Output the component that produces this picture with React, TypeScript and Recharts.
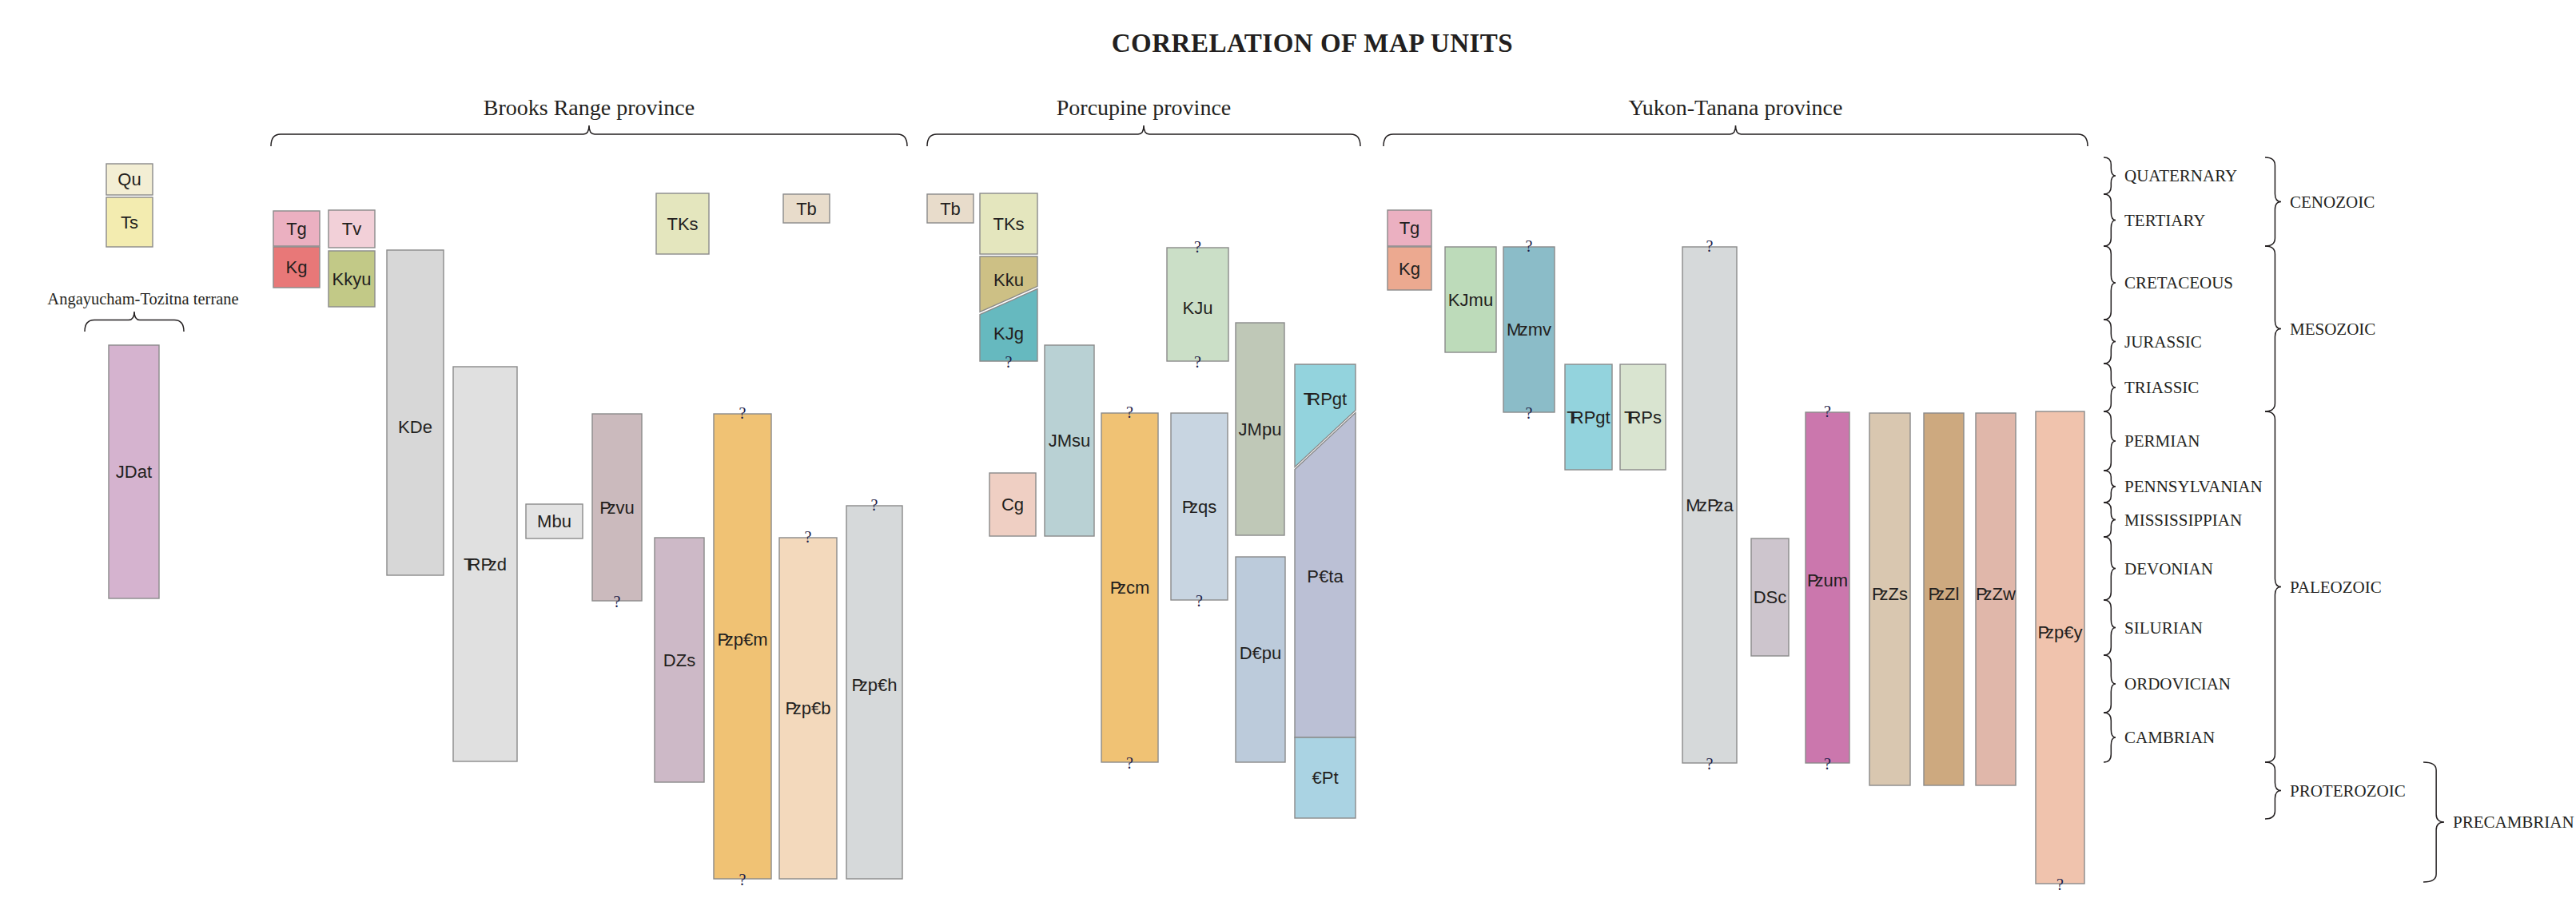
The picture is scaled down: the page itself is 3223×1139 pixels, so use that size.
import React from 'react';
import { ComposedChart, XAxis, YAxis, ReferenceArea, Scatter } from 'recharts';

const CHART_W = 3223;
const CHART_H = 1139;

// vertical axis = stratigraphic position, 0 = top of the Quaternary, growing downward
const periodNames = ['QUATERNARY', 'TERTIARY', 'CRETACEOUS', 'JURASSIC', 'TRIASSIC', 'PERMIAN', 'PENNSYLVANIAN', 'MISSISSIPPIAN', 'DEVONIAN', 'SILURIAN', 'ORDOVICIAN', 'CAMBRIAN'];
const periodBounds = [0, 46, 111, 203, 258, 318, 392, 432, 475, 554, 623, 695, 757];
const eraNames = ['CENOZOIC', 'MESOZOIC', 'PALEOZOIC', 'PROTEROZOIC'];
const eraBounds = [0, 111, 318, 757, 828];
const eonNames = ['PRECAMBRIAN'];
const eonBounds = [757, 907];

const provinceNames = ['Brooks Range province', 'Porcupine province', 'Yukon-Tanana province'];
const provinceStart = [339, 1160, 1731];
const provinceEnd = [1135, 1702, 2612];
const terraneName = 'Angayucham-Tozitna terrane';
const terraneSpan = [106, 230];

type Unit = {
  id: string;
  x1: number;
  x2: number;
  top: number;
  bottom: number;
  q?: 'top' | 'bottom' | 'both';
  cut?: [number, number]; // diagonal contact, left / right
  part?: 'upper' | 'lower';
};

// '|' = next glyph tucked into the previous one (Pz, Mz, TR symbols); '#x' = column suffix
const terraneUnits: Unit[] = [
  { id: 'Qu', x1: 133, x2: 191, top: 8, bottom: 47 },
  { id: 'Ts', x1: 133, x2: 191, top: 50, bottom: 112 },
  { id: 'JDat', x1: 136, x2: 199, top: 235, bottom: 552 },
];

const brooksUnits: Unit[] = [
  { id: 'Tg#b', x1: 342, x2: 400, top: 67, bottom: 111 },
  { id: 'Kg#b', x1: 342, x2: 400, top: 112, bottom: 163 },
  { id: 'Tv', x1: 411, x2: 469, top: 66, bottom: 113 },
  { id: 'Kkyu', x1: 411, x2: 469, top: 117, bottom: 187 },
  { id: 'KDe', x1: 484, x2: 555, top: 116, bottom: 523 },
  { id: 'T|RP|zd', x1: 567, x2: 647, top: 262, bottom: 756 },
  { id: 'Mbu', x1: 658, x2: 729, top: 434, bottom: 477 },
  { id: 'P|zvu', x1: 741, x2: 803, top: 321, bottom: 555, q: 'bottom' },
  { id: 'TKs#b', x1: 821, x2: 887, top: 45, bottom: 121 },
  { id: 'DZs', x1: 819, x2: 881, top: 476, bottom: 782 },
  { id: 'P|zp€m', x1: 893, x2: 965, top: 321, bottom: 903, q: 'both' },
  { id: 'Tb#b', x1: 980, x2: 1038, top: 46, bottom: 82 },
  { id: 'P|zp€b', x1: 975, x2: 1047, top: 476, bottom: 903, q: 'top' },
  { id: 'P|zp€h', x1: 1059, x2: 1129, top: 436, bottom: 903, q: 'top' },
];

const porcupineUnits: Unit[] = [
  { id: 'Tb#p', x1: 1160, x2: 1218, top: 46, bottom: 82 },
  { id: 'TKs#p', x1: 1226, x2: 1298, top: 45, bottom: 121 },
  { id: 'Kku', x1: 1226, x2: 1298, top: 124, bottom: 195, cut: [195, 163], part: 'upper' },
  { id: 'KJg', x1: 1226, x2: 1298, top: 163, bottom: 255, cut: [195, 163], part: 'lower', q: 'bottom' },
  { id: 'Cg', x1: 1238, x2: 1296, top: 395, bottom: 474 },
  { id: 'JMsu', x1: 1307, x2: 1369, top: 235, bottom: 474 },
  { id: 'P|zcm', x1: 1378, x2: 1449, top: 320, bottom: 757, q: 'both' },
  { id: 'KJu', x1: 1460, x2: 1537, top: 113, bottom: 255, q: 'both' },
  { id: 'P|zqs', x1: 1465, x2: 1536, top: 320, bottom: 554, q: 'bottom' },
  { id: 'JMpu', x1: 1546, x2: 1607, top: 207, bottom: 473 },
  { id: 'D€pu', x1: 1546, x2: 1608, top: 500, bottom: 757 },
  { id: 'T|RPgt#p', x1: 1620, x2: 1696, top: 259, bottom: 389, cut: [389, 318], part: 'upper' },
  { id: 'P€ta', x1: 1620, x2: 1696, top: 318, bottom: 726, cut: [389, 318], part: 'lower' },
  { id: '€Pt', x1: 1620, x2: 1696, top: 726, bottom: 827 },
];

const yukonUnits: Unit[] = [
  { id: 'Tg#y', x1: 1736, x2: 1791, top: 66, bottom: 111 },
  { id: 'Kg#y', x1: 1736, x2: 1791, top: 112, bottom: 166 },
  { id: 'KJmu', x1: 1808, x2: 1872, top: 112, bottom: 244 },
  { id: 'M|zmv', x1: 1881, x2: 1945, top: 112, bottom: 319, q: 'both' },
  { id: 'T|RPgt#y', x1: 1958, x2: 2017, top: 259, bottom: 391 },
  { id: 'T|RPs', x1: 2027, x2: 2084, top: 259, bottom: 391 },
  { id: 'M|zP|za', x1: 2105, x2: 2173, top: 112, bottom: 758, q: 'both' },
  { id: 'DSc', x1: 2191, x2: 2238, top: 477, bottom: 624 },
  { id: 'P|zum', x1: 2259, x2: 2314, top: 319, bottom: 758, q: 'both' },
  { id: 'P|zZs', x1: 2339, x2: 2390, top: 320, bottom: 786 },
  { id: 'P|zZl', x1: 2407, x2: 2457, top: 320, bottom: 786 },
  { id: 'P|zZw', x1: 2472, x2: 2522, top: 320, bottom: 786 },
  { id: 'P|zp€y', x1: 2547, x2: 2608, top: 318, bottom: 909, q: 'bottom' },
];

const unitFills: Record<string, string> = {
  Qu: '#f3eed4', Ts: '#f3ecb0', JDat: '#d5b3cf',
  'Tg#b': '#ebb0c1', 'Kg#b': '#e87878', Tv: '#f2d0d8', Kkyu: '#c2c987', KDe: '#d7d7d7',
  'T|RP|zd': '#e0e0e0', Mbu: '#e3e3e3', 'P|zvu': '#cbbabd', 'TKs#b': '#e4e6be', DZs: '#cdb9c7',
  'P|zp€m': '#f0c274', 'Tb#b': '#e8dccb', 'P|zp€b': '#f3d9bc', 'P|zp€h': '#d6d9da',
  'Tb#p': '#e8dccb', 'TKs#p': '#e4e6be', Kku: '#cdc085', KJg: '#66b9bf', Cg: '#efcfc3',
  JMsu: '#b9d1d4', 'P|zcm': '#f0c274', KJu: '#cbdfc7', 'P|zqs': '#c8d5e1', JMpu: '#bfc8b7',
  'D€pu': '#bccbdb', 'T|RPgt#p': '#93d3dd', 'P€ta': '#bbc0d5', '€Pt': '#aad3e3',
  'Tg#y': '#ebb0c1', 'Kg#y': '#eca990', KJmu: '#bddbba', 'M|zmv': '#8bbcc8', 'T|RPgt#y': '#93d3dd',
  'T|RPs': '#d9e4d0', 'M|zP|za': '#d6d9da', DSc: '#cdc5cd', 'P|zum': '#cb77ad', 'P|zZs': '#d9c7b0',
  'P|zZl': '#cda97f', 'P|zZw': '#e0b7aa', 'P|zp€y': '#f0c3ad',
};

// label placement where it is not centred in the box
const labelAt: Record<string, number> = {
  KDe: 337, 'P|zp€m': 603, 'P|zp€h': 660, KJu: 188, 'D€pu': 620,
  Kku: 153, KJg: 220, 'T|RPgt#p': 302, 'P€ta': 524,
  'P|zum': 529, 'P|zZs': 546, 'P|zZl': 546, 'P|zZw': 546, 'P|zp€y': 594,
};

const allUnits = [...terraneUnits, ...brooksUnits, ...porcupineUnits, ...yukonUnits];

const qMarks = allUnits.flatMap((u) => {
  const cx = (u.x1 + u.x2) / 2;
  const out: { x: number; y: number; pos: string }[] = [];
  if (u.q === 'top' || u.q === 'both') out.push({ x: cx, y: u.top, pos: 'top' });
  if (u.q === 'bottom' || u.q === 'both') out.push({ x: cx, y: u.bottom, pos: 'bottom' });
  return out;
});

const SERIF = "'Liberation Serif', 'Times New Roman', serif";
const SANS = "'Liberation Sans', Arial, sans-serif";
const INK = '#231f20';
const LABEL_SIZE = 22;

// one text element; tucked glyphs get a per-character negative dx
function UnitLabel({ x, y, code }: { x: number; y: number; code: string }) {
  let chars = '';
  const dxs: number[] = [];
  let tuck = false;
  for (const ch of code) {
    if (ch === '|') {
      tuck = true;
      continue;
    }
    if (tuck) {
      const prev = chars.slice(-1);
      const em = prev === 'T' ? 0.36 : prev === 'M' ? 0.12 : 0.24;
      dxs.push(-em * LABEL_SIZE);
    } else {
      dxs.push(0);
    }
    chars += ch;
    tuck = false;
  }
  return (
    <text
      x={x}
      y={y}
      dx={dxs.join(' ')}
      textAnchor="middle"
      dominantBaseline="central"
      fontFamily={SANS}
      fontSize={LABEL_SIZE}
      fill={INK}
    >
      {chars}
    </text>
  );
}

const unitShape = (u: Unit) => (props: any) => {
  const { x, y, width, height } = props;
  const py = (v: number) => y + ((v - u.top) / (u.bottom - u.top)) * height;
  const fill = unitFills[u.id];
  const code = u.id.split('#')[0];
  const ly = labelAt[u.id] !== undefined ? py(labelAt[u.id]) : y + height / 2;
  let body;
  if (u.cut) {
    const [cl, cr] = u.cut;
    const g = 1.6;
    const pts =
      u.part === 'upper'
        ? [[x, y], [x + width, y], [x + width, py(cr) - g], [x, py(cl) - g]]
        : [[x, py(cl) + g], [x + width, py(cr) + g], [x + width, y + height], [x, y + height]];
    body = <polygon points={pts.map((p) => p.join(',')).join(' ')} fill={fill} stroke="#8a8a8a" strokeWidth={1.4} />;
  } else {
    body = <rect x={x} y={y} width={width} height={height} fill={fill} stroke="#8a8a8a" strokeWidth={1.4} />;
  }
  return (
    <g>
      {body}
      <UnitLabel x={x + width / 2} y={ly} code={code} />
    </g>
  );
};

// "}" brace with its label to the right
const sideBrace = (label: string) => (props: any) => {
  const { x, y, width, height } = props;
  const xl = x;
  const xb = x + width * 0.62;
  const xt = x + width;
  const mid = y + height / 2;
  const r = Math.min(10, height / 5);
  const d = `M${xl},${y} Q${xb},${y} ${xb},${y + r} L${xb},${mid - r} Q${xb},${mid} ${xt},${mid} Q${xb},${mid} ${xb},${mid + r} L${xb},${y + height - r} Q${xb},${y + height} ${xl},${y + height}`;
  return (
    <g>
      <path d={d} fill="none" stroke={INK} strokeWidth={1.5} />
      <text x={xt + 11} y={mid} dominantBaseline="central" fontFamily={SERIF} fontSize={21} fill={INK}>
        {label}
      </text>
    </g>
  );
};

// upward brace with its label above
const topBrace = (label: string, fontSize: number, lift: number, shift = 0) => (props: any) => {
  const { x, y, width, height } = props;
  const xr = x + width;
  const cx = x + width / 2;
  const ym = y + height * 0.42;
  const yb = y + height;
  const r = 12;
  const r2 = 7;
  const d = `M${x},${yb} Q${x},${ym} ${x + r},${ym} L${cx - r2},${ym} Q${cx},${ym} ${cx},${y} Q${cx},${ym} ${cx + r2},${ym} L${xr - r},${ym} Q${xr},${ym} ${xr},${yb}`;
  return (
    <g>
      <path d={d} fill="none" stroke={INK} strokeWidth={1.5} />
      <text x={cx + shift} y={y - lift} textAnchor="middle" fontFamily={SERIF} fontSize={fontSize} fill={INK}>
        {label}
      </text>
    </g>
  );
};

const QMark = (props: any) => {
  const { cx, cy, payload } = props;
  return (
    <text x={cx} y={cy + (payload.pos === 'top' ? 6 : 8)} textAnchor="middle" fontFamily={SERIF} fontSize={20} fill="#1d1d4a">
      ?
    </text>
  );
};

export default function App() {
  return (
    <div style={{ position: 'relative', width: CHART_W, height: CHART_H, background: '#fff' }}>
      <style>{'body{margin:0;background:#fff}'}</style>
      <div
        style={{
          position: 'absolute',
          top: 38,
          left: 1642,
          transform: 'translateX(-50%)',
          fontFamily: SERIF,
          fontWeight: 700,
          fontSize: 33,
          lineHeight: '33px',
          whiteSpace: 'nowrap',
          color: INK,
          letterSpacing: 0.5,
        }}
      >
        CORRELATION OF MAP UNITS
      </div>
      <ComposedChart width={CHART_W} height={CHART_H} margin={{ top: 0, right: 0, bottom: 0, left: 0 }}>
        <XAxis type="number" dataKey="x" domain={[0, CHART_W]} hide allowDataOverflow />
        <YAxis type="number" dataKey="y" domain={[-197, 942]} reversed hide allowDataOverflow />

        {provinceNames.map((name, i) => (
          <ReferenceArea
            key={name}
            x1={provinceStart[i]}
            x2={provinceEnd[i]}
            y1={-40}
            y2={-14}
            ifOverflow="visible"
            shape={topBrace(name, 28, 13.5)}
          />
        ))}
        <ReferenceArea
          x1={terraneSpan[0]}
          x2={terraneSpan[1]}
          y1={193}
          y2={218}
          ifOverflow="visible"
          shape={topBrace(terraneName, 20.5, 9, 11)}
        />

        {allUnits.map((u) => (
          <ReferenceArea key={u.id} x1={u.x1} x2={u.x2} y1={u.top} y2={u.bottom} ifOverflow="visible" shape={unitShape(u)} />
        ))}

        {periodNames.map((name, i) => (
          <ReferenceArea
            key={name}
            x1={2632}
            x2={2647}
            y1={periodBounds[i]}
            y2={periodBounds[i + 1]}
            ifOverflow="visible"
            shape={sideBrace(name)}
          />
        ))}
        {eraNames.map((name, i) => (
          <ReferenceArea
            key={name}
            x1={2834}
            x2={2854}
            y1={eraBounds[i]}
            y2={eraBounds[i + 1]}
            ifOverflow="visible"
            shape={sideBrace(name)}
          />
        ))}
        {eonNames.map((name, i) => (
          <ReferenceArea
            key={name}
            x1={3032}
            x2={3058}
            y1={eonBounds[i]}
            y2={eonBounds[i + 1]}
            ifOverflow="visible"
            shape={sideBrace(name)}
          />
        ))}

        <Scatter data={qMarks} shape={QMark} isAnimationActive={false} />
      </ComposedChart>
    </div>
  );
}
